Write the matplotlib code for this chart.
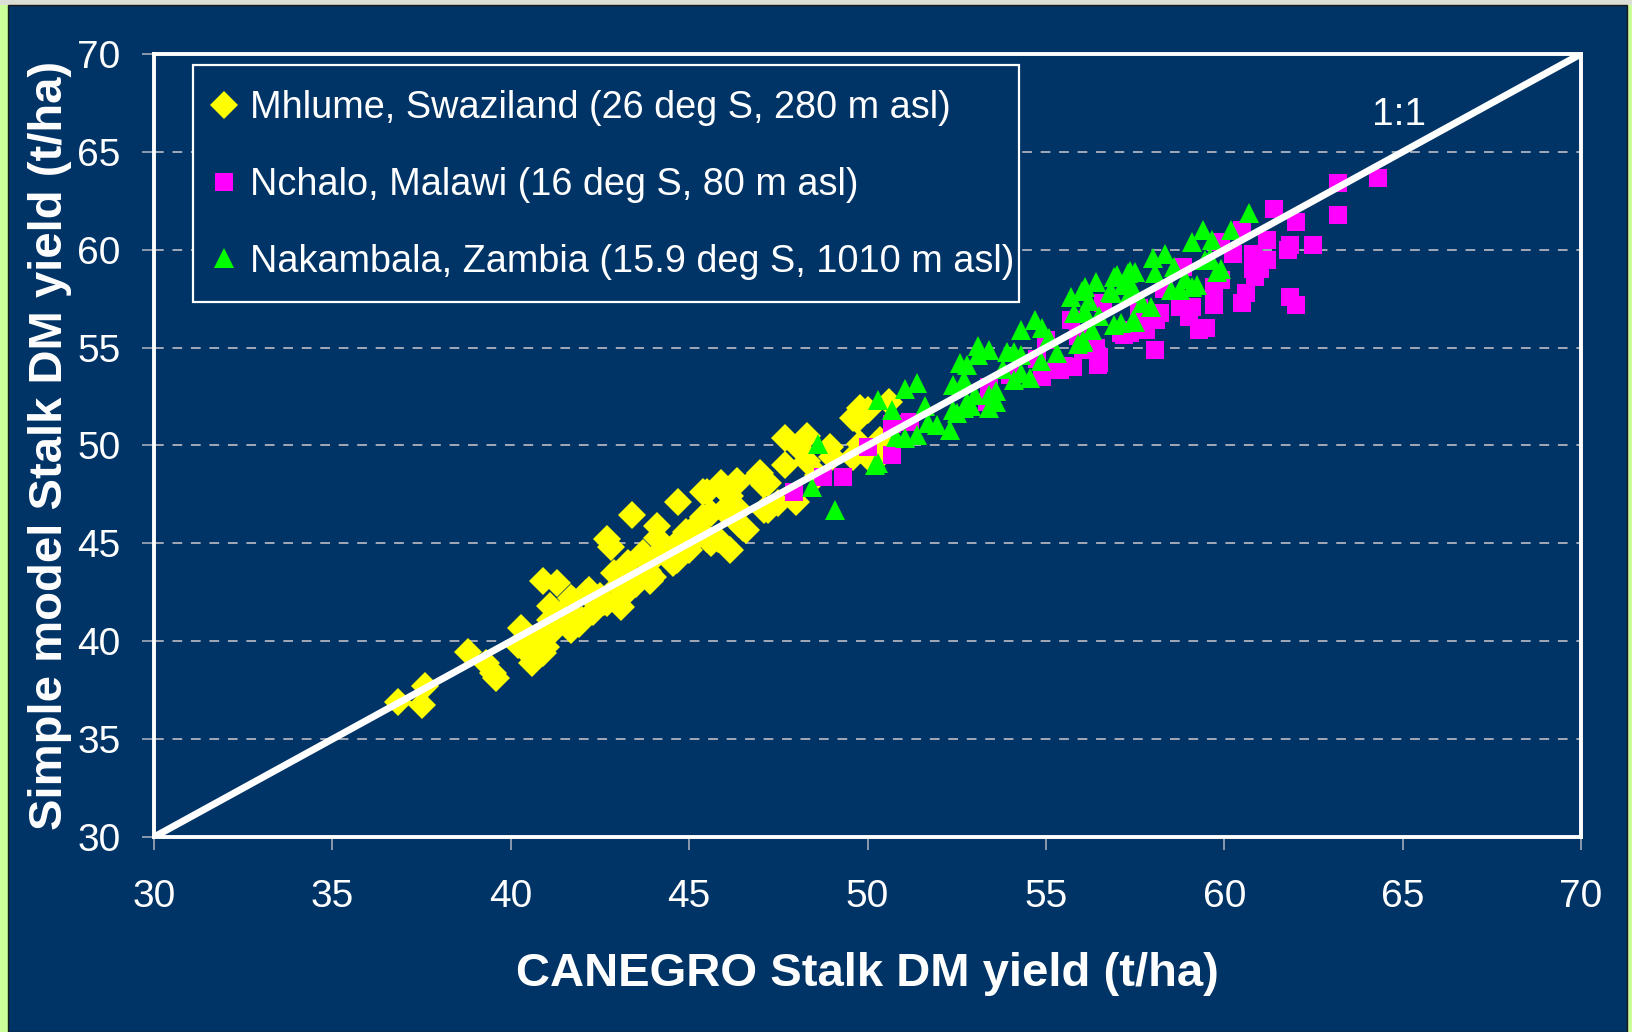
import matplotlib
matplotlib.use("Agg")
import matplotlib.pyplot as plt
from matplotlib.patches import Rectangle

plt.rcParams['font.family'] = ['Liberation Sans', 'DejaVu Sans']

# ---------------- data ----------------
mhlume_x = [36.85, 37.6, 37.5, 38.8, 39.3, 39.5, 39.6,
            40.3, 40.2, 40.6, 40.9, 40.9, 41.3, 41.1, 41.7, 40.8, 41.0, 40.6, 41.1, 41.6,
            41.9, 41.4, 41.75, 42.1, 42.2, 42.6, 42.0, 41.7, 42.3, 42.7, 43.1, 42.8, 42.7,
            43.3, 43.7, 44.0, 43.4, 43.1, 43.7, 43.9, 43.0, 43.5, 44.1, 44.1, 44.7, 44.4,
            44.55, 43.85, 44.65, 45.0, 45.5, 45.9, 46.35, 45.6, 46.1, 45.3, 45.8, 45.5,
            46.15, 46.4, 46.9, 47.2, 47.1, 47.5, 47.7, 47.7, 48.3, 48.1, 48.3, 48.0, 48.95,
            49.0, 49.6, 49.7, 50.0, 50.3, 45.4, 45.3, 45.6, 46.15, 46.35, 46.4, 46.5, 47.0,
            47.1, 47.2, 46.6, 45.4, 45.9, 48.6, 49.8, 49.6, 49.8, 50.6, 50.35, 50.0, 42.5,
            42.9, 44.3, 44.9, 41.2, 41.5, 42.4, 43.2, 44.0, 44.8, 45.2, 46.0, 40.5, 41.8]
mhlume_y = [36.9, 37.7, 36.75, 39.45, 38.9, 38.4, 38.1,
            40.7, 39.8, 38.9, 39.4, 43.1, 43.0, 41.8, 42.2, 40.2, 39.7, 39.2, 41.1, 40.9,
            40.9, 41.4, 42.1, 42.45, 42.6, 42.0, 41.1, 40.6, 41.5, 41.95, 41.75, 44.8, 45.2,
            44.0, 44.5, 43.3, 46.45, 43.6, 44.3, 43.1, 42.8, 42.9, 45.9, 45.3, 47.1, 44.65,
            44.0, 43.6, 44.15, 44.65, 47.6, 47.9, 48.1, 46.55, 46.9, 45.5, 45.2, 45.2,
            44.65, 46.0, 48.4, 48.1, 46.7, 47.05, 49.0, 50.4, 50.5, 49.8, 49.2, 47.1, 49.9,
            49.4, 49.4, 51.3, 51.8, 49.35, 46.35, 45.7, 45.0, 47.4, 48.2, 46.7, 45.8, 48.6,
            48.0, 46.7, 45.7, 47.6, 48.1, 48.5, 50.1, 51.4, 51.9, 52.2, 50.3, 49.4, 42.3,
            43.5, 44.6, 45.6, 40.6, 41.0, 42.0, 42.4, 44.2, 45.3, 45.9, 46.6, 40.1, 41.3]

nchalo_x = [47.95, 48.75, 49.3, 50.0, 50.7, 50.7, 51.2, 53.4, 53.35, 54.9, 54.75, 55.0,
            55.4, 55.75, 55.7, 56.5, 56.05, 57.2, 56.6, 57.45, 57.8, 56.45, 57.1, 57.8,
            58.2, 58.05, 59.0, 59.3, 59.5, 59.7, 59.7, 59.1, 58.75, 58.85, 59.9, 59.9,
            60.25, 60.5, 60.8, 61.0, 60.8, 61.2, 61.2, 60.85, 60.6, 60.5, 61.85, 62.0,
            61.85, 62.5, 61.8, 61.4, 62.0, 63.2, 63.2, 64.3, 56.4, 56.5, 57.35, 54.9,
            55.5, 55.9, 58.3, 57.6, 58.1, 59.4, 54.0]
nchalo_y = [47.6, 48.4, 48.4, 49.9, 49.5, 51.1, 51.2, 53.0, 52.2, 53.5, 54.4, 55.4,
            53.85, 54.0, 56.4, 54.2, 54.9, 55.65, 57.3, 55.9, 56.4, 54.1, 55.75, 55.9,
            56.75, 54.9, 56.55, 55.9, 56.0, 57.2, 58.1, 57.1, 57.1, 59.1, 58.45, 60.4,
            59.8, 61.0, 59.8, 59.0, 59.0, 60.5, 59.5, 58.6, 57.8, 57.3, 57.6, 57.2,
            60.25, 60.25, 60.0, 62.1, 61.4, 61.8, 63.4, 63.65, 55.0, 54.5, 55.75, 53.8,
            54.05, 55.6, 58.0, 57.0, 56.4, 56.0, 53.6]

nakambala_x = [48.45, 48.6, 49.1, 50.3, 50.3, 50.7, 51.05, 51.4, 50.8, 51.05, 51.4, 51.6,
               51.7, 51.95, 52.3, 52.4, 52.4, 52.6, 52.8, 52.7, 52.8, 52.5, 52.7, 53.1,
               53.4, 53.1, 53.4, 53.4, 53.6, 53.6, 53.9, 54.1, 54.3, 54.1, 54.3, 54.55,
               54.3, 54.7, 54.9, 54.85, 55.3, 55.7, 55.8, 56.1, 56.4, 56.2, 55.9, 56.05,
               56.5, 56.8, 56.9, 56.9, 57.15, 57.1, 57.35, 57.5, 57.7, 60.7, 60.2, 59.4,
               59.1, 59.65, 59.8, 59.45, 58.35, 58.0, 58.05, 58.6, 58.75, 59.25, 57.0,
               57.3, 57.5, 57.4, 56.85, 57.35, 57.45, 57.95, 58.5, 56.3, 56.05, 59.1,
               59.9, 59.6, 58.9, 56.0, 56.1, 50.2, 53.0, 53.8, 55.1, 52.9]
nakambala_y = [47.9, 50.1, 46.7, 49.1, 52.3, 51.8, 52.9, 53.2, 50.45, 50.4, 50.55, 52.0,
               51.15, 51.05, 50.8, 51.8, 53.1, 54.2, 54.1, 53.35, 52.2, 51.65, 51.9, 55.1,
               54.9, 54.6, 52.6, 51.9, 52.8, 52.2, 54.8, 54.8, 54.6, 53.35, 53.7, 53.45,
               55.9, 56.4, 56.0, 54.3, 54.7, 57.6, 56.75, 58.1, 58.35, 57.4, 55.2, 55.3,
               56.6, 57.85, 58.6, 56.15, 58.2, 56.25, 58.9, 56.3, 57.3, 61.9, 61.0, 61.0,
               60.4, 60.5, 58.85, 59.5, 59.8, 59.6, 58.8, 59.1, 57.95, 58.2, 58.7,
               58.8, 58.85, 58.2, 57.8, 57.8, 56.4, 57.1, 57.95, 55.9, 55.4, 58.1,
               59.0, 59.6, 58.5, 57.9, 56.8, 49.0, 52.6, 53.9, 55.5, 52.0]

series_labels = ["Mhlume, Swaziland (26 deg S, 280 m asl)",
                 "Nchalo, Malawi (16 deg S, 80 m asl)",
                 "Nakambala, Zambia (15.9 deg S, 1010 m asl)"]
ticks = [30, 35, 40, 45, 50, 55, 60, 65, 70]
one_to_one = [30, 70]

# ---------------- style ----------------
W, H = 1633, 1032
NAVY = '#003366'
fig = plt.figure(figsize=(W / 100, H / 100), dpi=100)
fig.patch.set_facecolor('#CCFF99')
fig.add_artist(Rectangle((0, 1 - 5 / H), 1, 5 / H, transform=fig.transFigure,
                         facecolor='#DCDFD6', edgecolor='none', zorder=-3))
fig.add_artist(Rectangle((8 / W, 0), (1627 - 8) / W, 1 - 5 / H, transform=fig.transFigure,
                         facecolor=NAVY, edgecolor='#1A1A1A', linewidth=1, zorder=-2))

ax = fig.add_axes([154 / W, 1 - 837 / H, (1581 - 154) / W, (837 - 54) / H])
ax.set_facecolor(NAVY)

l1, = ax.plot(mhlume_x, mhlume_y, linestyle='none', marker='D', ms=14,
              mew=0, color='#FFFF00', zorder=3)
l2, = ax.plot(nchalo_x, nchalo_y, linestyle='none', marker='s', ms=12.5,
              mew=0, color='#FF00FF', zorder=4)
l3, = ax.plot(nakambala_x, nakambala_y, linestyle='none', marker='^', ms=14.5,
              mew=0, color='#00FF00', zorder=5)
ax.plot(one_to_one, one_to_one, color='white', lw=5, zorder=6, solid_capstyle='butt')

ax.set_xlim(30, 70)
ax.set_ylim(30, 70)
ax.set_xticks(ticks)
ax.set_yticks(ticks)
for t in ticks[1:-1]:
    ax.axhline(t, color='#A3AAB8', lw=1.4, linestyle=(0, (5, 4.5)), zorder=1)

for s in ax.spines.values():
    s.set_color('white')
    s.set_linewidth(2.8)
    s.set_zorder(7)

ax.tick_params(axis='both', direction='out', length=9, width=1.2, color='#A3AAB8',
               labelcolor='white', labelsize=28)
ax.tick_params(axis='x', pad=21)
ax.tick_params(axis='y', pad=15)

ax.set_xlabel("CANEGRO Stalk DM yield (t/ha)", fontsize=34, fontweight='bold',
              color='white', labelpad=27)
ax.set_ylabel("Simple model Stalk DM yield (t/ha)", fontsize=34, fontweight='bold',
              color='white', labelpad=4)

ax.text(64.9, 66.9, "1:1", color='white', fontsize=28, ha='center', va='center', zorder=8)

# legend frame drawn as its own box
ax.add_patch(Rectangle((0.0271, 0.6833), 0.6059 - 0.0271, 0.9865 - 0.6833,
                       transform=ax.transAxes, facecolor=NAVY, edgecolor='white',
                       linewidth=1.6, zorder=8))
leg = ax.legend([l1, l2, l3], series_labels, loc='upper left',
                bbox_to_anchor=(0.0399, 0.9538), borderaxespad=0, frameon=False,
                fontsize=27.3, labelcolor='white', handlelength=0.7, handletextpad=0.33,
                labelspacing=1.075, borderpad=0, numpoints=1)
leg.set_zorder(9)

fig.savefig("out.png", dpi=100, facecolor=fig.get_facecolor())
